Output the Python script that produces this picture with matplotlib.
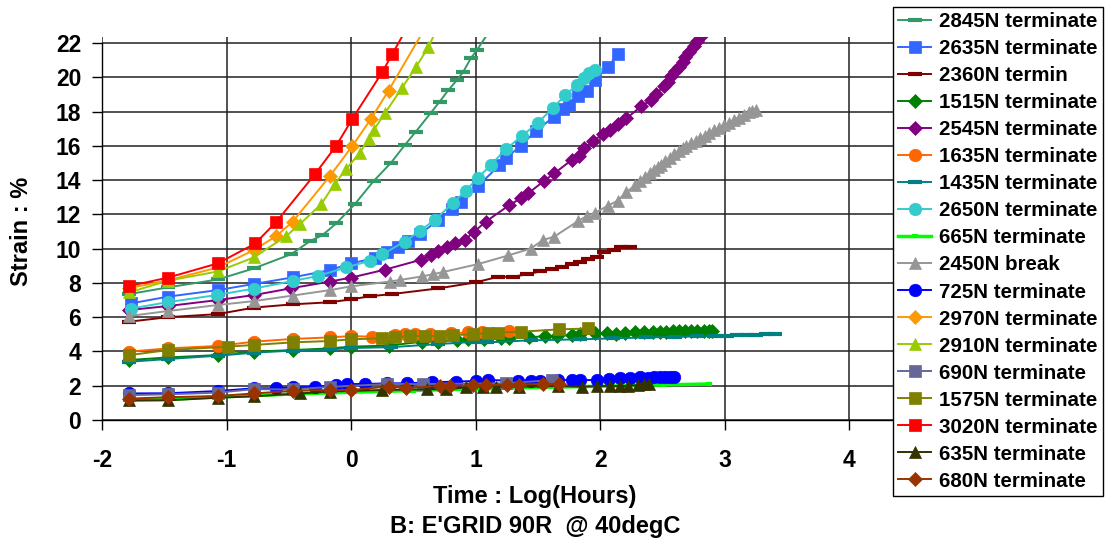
import matplotlib
matplotlib.use("Agg")
import matplotlib.pyplot as plt

plt.rcParams['font.family'] = ['Liberation Sans', 'DejaVu Sans']
plt.rcParams['font.weight'] = 'bold'
plt.rcParams['axes.unicode_minus'] = False

# ---------------- data (x = log10 hours, y = strain %) ----------------
x2845 = [-1.78, -1.47, -1.07, -0.78, -0.48, -0.33, -0.23, -0.12, 0.03, 0.18, 0.32, 0.43, 0.52, 0.64, 0.71, 0.78, 0.85, 0.90, 0.96, 1.01, 1.12]
y2845 = [7.35, 7.74, 8.2, 8.85, 9.68, 10.44, 10.79, 11.47, 12.6, 13.94, 15.01, 16.04, 16.83, 17.93, 18.57, 19.25, 19.84, 20.32, 21.1, 21.59, 22.8]

x2635 = [-1.77, -1.47, -1.07, -0.78, -0.47, -0.17, 0.0, 0.19, 0.29, 0.38, 0.46, 0.55, 0.70, 0.81, 0.88, 1.02, 1.19, 1.24, 1.36, 1.48, 1.63, 1.70, 1.75, 1.82, 1.89, 1.96, 2.06, 2.14]
y2635 = [6.8, 7.2, 7.58, 7.94, 8.32, 8.75, 9.14, 9.45, 9.82, 10.1, 10.46, 10.83, 11.67, 12.29, 12.74, 13.67, 14.86, 15.27, 15.99, 16.86, 17.7, 18.13, 18.38, 18.9, 19.19, 19.87, 20.6, 21.33]

x2360 = [-1.78, -1.47, -1.07, -0.78, -0.47, -0.17, 0.0, 0.15, 0.33, 0.70, 1.0, 1.18, 1.30, 1.41, 1.52, 1.61, 1.69, 1.77, 1.84, 1.90, 1.97, 2.03, 2.11, 2.17, 2.24]
y2360 = [5.74, 6.0, 6.18, 6.56, 6.75, 6.87, 7.04, 7.22, 7.35, 7.68, 8.03, 8.36, 8.36, 8.5, 8.67, 8.8, 8.95, 9.1, 9.2, 9.37, 9.5, 9.82, 9.92, 10.07, 10.1]

x1515 = [-1.78, -1.47, -1.07, -0.78, -0.47, -0.17, 0.0, 0.30, 0.57, 0.70, 0.85, 0.94, 1.07, 1.20, 1.27, 1.43, 1.56, 1.65, 1.77, 1.84, 1.96, 2.05, 2.13, 2.20, 2.28, 2.35, 2.42, 2.48, 2.53, 2.58, 2.63, 2.68, 2.73, 2.78, 2.83, 2.87, 2.90]
y1515 = [3.5, 3.65, 3.79, 3.99, 4.08, 4.18, 4.28, 4.34, 4.57, 4.57, 4.67, 4.71, 4.75, 4.77, 4.77, 4.82, 4.9, 4.9, 4.96, 5.0, 5.05, 5.05, 5.02, 5.05, 5.11, 5.15, 5.13, 5.15, 5.16, 5.17, 5.18, 5.18, 5.19, 5.2, 5.21, 5.2, 5.19]

x2545 = [-1.78, -1.47, -1.07, -0.78, -0.48, -0.17, 0.0, 0.27, 0.56, 0.64, 0.70, 0.77, 0.83, 0.91, 0.99, 1.08, 1.27, 1.36, 1.42, 1.55, 1.63, 1.77, 1.83, 1.87, 1.94, 2.02, 2.08, 2.14, 2.21, 2.33, 2.41, 2.45, 2.51, 2.54, 2.57, 2.60, 2.63, 2.66, 2.68, 2.71, 2.75, 2.78, 2.81]
y2545 = [6.42, 6.65, 7.0, 7.29, 7.69, 8.08, 8.31, 8.77, 9.35, 9.61, 9.87, 10.11, 10.3, 10.5, 11.0, 11.57, 12.54, 12.93, 13.22, 13.96, 14.39, 15.17, 15.4, 15.85, 16.28, 16.67, 16.92, 17.27, 17.6, 18.32, 18.67, 19.02, 19.49, 19.75, 20.07, 20.35, 20.6, 20.9, 21.2, 21.5, 21.8, 22.1, 22.4]

x1635 = [-1.78, -1.47, -1.07, -0.78, -0.47, -0.17, 0.0, 0.17, 0.35, 0.43, 0.51, 0.63, 0.80, 0.94, 1.05, 1.27]
y1635 = [3.99, 4.18, 4.32, 4.57, 4.73, 4.82, 4.9, 4.86, 4.96, 5.02, 5.02, 5.02, 5.05, 5.11, 5.15, 5.2]

x1435 = [-1.78, -1.47, -1.07, -0.78, -0.47, -0.17, 0.0, 0.32, 0.70, 1.0, 1.09, 1.44, 1.84, 2.10, 2.37, 2.60, 2.78, 2.91, 3.02, 3.10, 3.18, 3.25, 3.33, 3.40]
y1435 = [3.4, 3.56, 3.75, 3.93, 4.05, 4.12, 4.2, 4.25, 4.43, 4.57, 4.53, 4.65, 4.71, 4.76, 4.82, 4.85, 4.88, 4.9, 4.93, 4.95, 4.97, 4.98, 5.0, 5.02]

x2650 = [-1.77, -1.47, -1.08, -0.78, -0.47, -0.27, -0.04, 0.15, 0.25, 0.43, 0.55, 0.67, 0.82, 0.92, 1.02, 1.12, 1.24, 1.37, 1.50, 1.62, 1.72, 1.81, 1.87, 1.91, 1.96]
y2650 = [6.5, 6.88, 7.29, 7.67, 8.11, 8.4, 8.9, 9.29, 9.67, 10.41, 11.03, 11.67, 12.68, 13.38, 14.15, 14.87, 15.79, 16.57, 17.35, 18.22, 18.96, 19.54, 19.93, 20.26, 20.45]

x665 = [-1.78, -1.47, -1.07, -0.78, -0.47, -0.17, 0.0, 0.5, 1.0, 1.5, 2.0, 2.5, 2.87]
y665 = [1.15, 1.2, 1.35, 1.42, 1.52, 1.58, 1.62, 1.72, 1.82, 1.9, 1.97, 2.05, 2.1]

x2450 = [-1.78, -1.47, -1.07, -0.78, -0.47, -0.17, 0.0, 0.31, 0.39, 0.57, 0.66, 0.74, 1.02, 1.26, 1.44, 1.54, 1.63, 1.82, 1.89, 1.96, 2.06, 2.14, 2.21, 2.28, 2.32, 2.36, 2.40, 2.43, 2.46, 2.49, 2.52, 2.56, 2.59, 2.63, 2.66, 2.69, 2.73, 2.77, 2.80, 2.84, 2.87, 2.91, 2.95, 2.99, 3.03, 3.07, 3.11, 3.15, 3.19, 3.22, 3.25]
y2450 = [6.07, 6.36, 6.71, 6.94, 7.26, 7.58, 7.8, 8.08, 8.17, 8.38, 8.51, 8.64, 9.1, 9.6, 10.0, 10.5, 10.7, 11.6, 11.9, 12.1, 12.5, 12.8, 13.3, 13.7, 13.95, 14.2, 14.4, 14.6, 14.75, 14.9, 15.1, 15.3, 15.5, 15.7, 15.85, 16.0, 16.15, 16.3, 16.45, 16.6, 16.75, 16.9, 17.05, 17.2, 17.35, 17.5, 17.65, 17.8, 17.95, 18.05, 18.1]

x725 = [-1.78, -1.47, -1.07, -0.78, -0.60, -0.47, -0.29, -0.12, -0.03, 0.11, 0.29, 0.45, 0.65, 0.84, 1.0, 1.10, 1.34, 1.44, 1.52, 1.66, 1.77, 1.84, 1.97, 2.07, 2.16, 2.24, 2.32, 2.38, 2.43, 2.48, 2.52, 2.56, 2.59]
y725 = [1.55, 1.56, 1.69, 1.85, 1.85, 1.9, 1.93, 2.04, 2.1, 2.1, 2.14, 2.14, 2.2, 2.24, 2.28, 2.33, 2.29, 2.29, 2.29, 2.33, 2.33, 2.33, 2.33, 2.37, 2.44, 2.45, 2.49, 2.48, 2.49, 2.5, 2.49, 2.5, 2.49]

x2970 = [-1.78, -1.47, -1.07, -0.78, -0.60, -0.47, -0.17, 0.01, 0.16, 0.30, 0.62]
y2970 = [7.7, 8.15, 8.9, 9.92, 10.74, 11.57, 14.24, 16.0, 17.58, 19.22, 23.2]

x2910 = [-1.78, -1.47, -1.07, -0.78, -0.52, -0.41, -0.24, -0.13, -0.04, 0.07, 0.14, 0.18, 0.27, 0.41, 0.52, 0.62, 0.70]
y2910 = [7.45, 8.13, 8.67, 9.49, 10.74, 11.44, 12.6, 13.8, 14.64, 15.6, 16.4, 16.92, 17.89, 19.4, 20.6, 21.75, 23.0]

x690 = [-1.78, -1.47, -1.07, -0.78, -0.47, -0.17, 0.29, 0.58, 1.24, 1.61]
y690 = [1.45, 1.5, 1.6, 1.8, 1.78, 1.93, 2.1, 2.1, 2.14, 2.33]

x1575 = [-1.78, -1.47, -0.99, -0.78, -0.47, -0.17, 0.0, 0.25, 0.35, 0.47, 0.59, 0.71, 0.82, 0.98, 1.10, 1.18, 1.36, 1.67, 1.90]
y1575 = [3.79, 4.08, 4.28, 4.38, 4.53, 4.61, 4.71, 4.77, 4.82, 4.9, 4.9, 4.9, 4.96, 5.0, 5.07, 5.1, 5.15, 5.29, 5.34]

x3020 = [-1.78, -1.47, -1.07, -0.77, -0.60, -0.29, -0.12, 0.01, 0.25, 0.33, 0.48]
y3020 = [7.82, 8.31, 9.14, 10.3, 11.57, 14.35, 16.0, 17.58, 20.3, 21.35, 23.3]

x635 = [-1.78, -1.47, -1.07, -0.78, -0.41, -0.17, 0.25, 0.61, 0.76, 0.92, 1.06, 1.16, 1.35, 1.66, 1.85, 1.97, 2.08, 2.16, 2.22, 2.30, 2.35, 2.39]
y635 = [1.15, 1.15, 1.3, 1.38, 1.55, 1.66, 1.75, 1.79, 1.79, 1.9, 1.95, 1.95, 1.94, 1.98, 1.94, 1.98, 1.98, 1.98, 1.98, 2.04, 2.08, 2.08]

x680 = [-1.78, -1.47, -1.07, -0.78, -0.47, -0.17, 0.0, 0.30, 0.44, 0.71, 0.79, 0.98, 1.08, 1.25, 1.35, 1.54, 1.67]
y680 = [1.25, 1.33, 1.4, 1.55, 1.7, 1.75, 1.75, 1.95, 1.87, 1.98, 1.98, 2.04, 2.04, 2.05, 2.07, 2.1, 2.1]

labels = ["2845N terminate", "2635N terminate", "2360N termin", "1515N terminate",
          "2545N terminate", "1635N terminate", "1435N terminate", "2650N terminate",
          "665N terminate", "2450N break", "725N terminate", "2970N terminate",
          "2910N terminate", "690N terminate", "1575N terminate", "3020N terminate",
          "635N terminate", "680N terminate"]
xs = [x2845, x2635, x2360, x1515, x2545, x1635, x1435, x2650, x665, x2450,
      x725, x2970, x2910, x690, x1575, x3020, x635, x680]
ys = [y2845, y2635, y2360, y1515, y2545, y1635, y1435, y2650, y665, y2450,
      y725, y2970, y2910, y690, y1575, y3020, y635, y680]

xtick_vals = [-2, -1, 0, 1, 2, 3, 4, 5]
xtick_text = ["-2", "-1", "0", "1", "2", "3", "4", ""]   # "5" is hidden under the legend

colors = ["#339966", "#3366FF", "#800000", "#008000", "#800080", "#FF6600",
          "#008080", "#33CCCC", "#00FF00", "#969696", "#0000FF", "#FF9900",
          "#99CC00", "#666699", "#808000", "#FF0000", "#333300", "#993300"]
markers = ["_", "s", "_", "D", "D", "o", "_", "o", "_", "^", "o", "D",
           "^", "s", "s", "s", "^", "D"]
msizes = {"_": 10, "s": 8, "D": 7, "o": 9, "^": 9}

# ---------------- figure ----------------
W, H = 1105, 547
fig = plt.figure(figsize=(W / 100, H / 100), dpi=100)
x0, x1 = 102, 974
ytop, ybot = 43, 420
ymax = 22.35
top_px = ybot - (ybot - ytop) * ymax / 22
ax = fig.add_axes([x0 / W, 1 - ybot / H, (x1 - x0) / W, (ybot - top_px) / H])

for xv, yv, c, m, lab in zip(xs, ys, colors, markers, labels):
    ms = msizes[m]
    mew = 3 if m == "_" else 0.5
    lw = 1.4
    if lab.startswith("665"):
        ms = 5
        lw = 2.5
    ax.plot(xv, yv, color=c, lw=lw, marker=m, markersize=ms,
            markerfacecolor=c, markeredgecolor=c, markeredgewidth=mew,
            label=lab, clip_on=True)

ax.set_xlim(-2, 5)
ax.set_ylim(0, ymax)
ax.set_xticks(xtick_vals)
ax.set_xticklabels(xtick_text)
ax.set_yticks(range(0, 23, 2))
ax.grid(True, color="#222222", lw=1.1)
ax.set_axisbelow(True)
for s in ["top", "right"]:
    ax.spines[s].set_visible(False)
ax.spines["left"].set_bounds(0, 22)
ax.spines["left"].set_linewidth(1.0)
ax.spines["bottom"].set_linewidth(1.0)
ax.tick_params(axis="both", direction="out", length=7, width=1,
               labelsize=16.5)
ax.tick_params(axis="x", pad=14)
ax.tick_params(axis="y", pad=8)
for lbl in ax.get_xticklabels() + ax.get_yticklabels():
    lbl.set_fontweight("bold")

fig.text(22 / W, 1 - 231 / H, "Strain : %", rotation=90, ha="center",
         va="center", fontsize=17, fontweight="bold")
fig.text(535 / W, 1 - 496 / H, "Time : Log(Hours)", ha="center", va="center",
         fontsize=17, fontweight="bold")
fig.text(535 / W, 1 - 527 / H, "B: E'GRID 90R  @ 40degC", ha="center",
         va="center", fontsize=17, fontweight="bold")

leg = fig.legend(loc="upper left", bbox_to_anchor=(893 / W, 1 - 7 / H),
                 borderaxespad=0, frameon=True, fancybox=False,
                 edgecolor="black", framealpha=1.0, labelspacing=0.39,
                 handlelength=1.6, handletextpad=0.4, borderpad=0.26,
                 prop={"weight": "bold", "size": 14.8})
leg.get_frame().set_linewidth(1.0)
leg.set_zorder(10)

fig.savefig("out.png", dpi=100)
